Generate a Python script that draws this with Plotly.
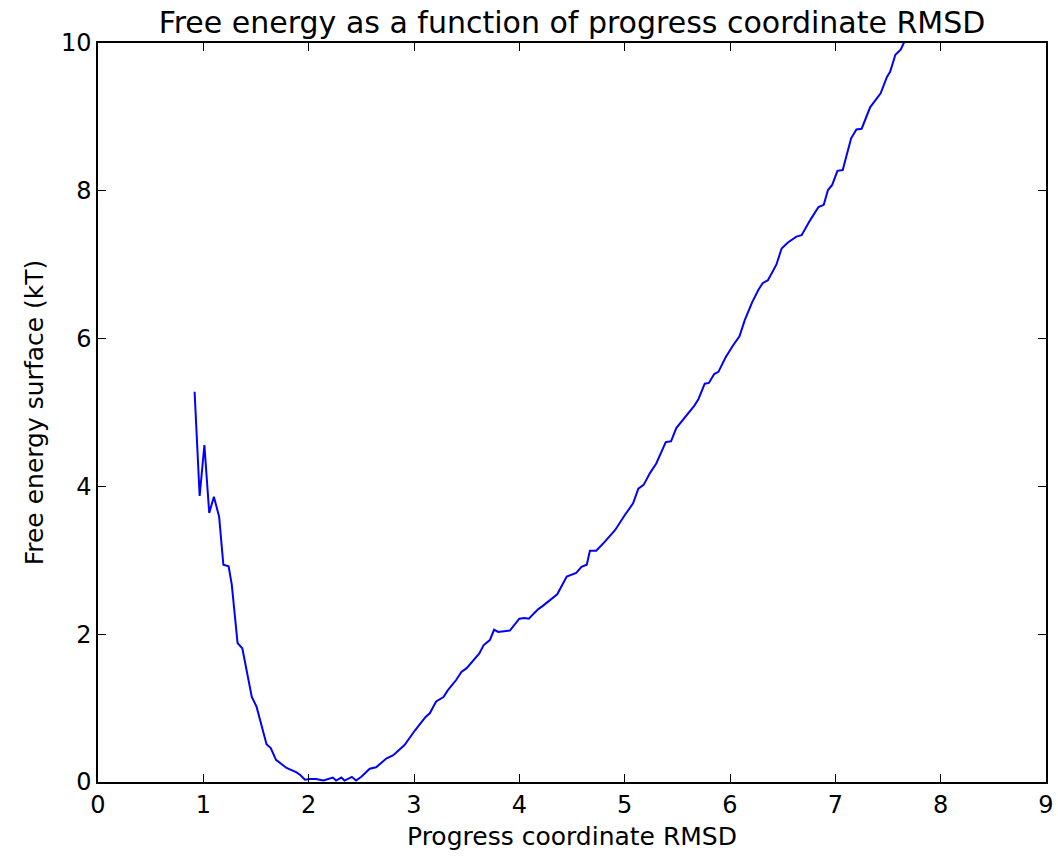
import plotly.graph_objects as go

rmsd = [0.917, 0.965, 1.01, 1.056, 1.10, 1.15, 1.19, 1.24, 1.27, 1.325, 1.37, 1.46, 1.505,
        1.60, 1.64, 1.69, 1.79, 1.885, 1.92, 1.965, 2.01, 2.07, 2.14, 2.23, 2.26, 2.31,
        2.34, 2.41, 2.45, 2.50, 2.58, 2.64, 2.74, 2.80, 2.91, 3.01, 3.11, 3.15, 3.21,
        3.28, 3.32, 3.40, 3.45, 3.50, 3.62, 3.66, 3.72, 3.76, 3.80, 3.91, 4.00, 4.05,
        4.09, 4.18, 4.22, 4.30, 4.36, 4.45, 4.54, 4.59, 4.64, 4.67, 4.73, 4.81, 4.91,
        5.00, 5.08, 5.13, 5.18, 5.24, 5.30, 5.39, 5.44, 5.49, 5.55, 5.62, 5.66, 5.70,
        5.76, 5.80, 5.85, 5.89, 5.96, 6.03, 6.09, 6.14, 6.21, 6.27, 6.31, 6.36, 6.44,
        6.49, 6.55, 6.63, 6.68, 6.76, 6.84, 6.89, 6.93, 6.97, 7.02, 7.07, 7.15, 7.20,
        7.25, 7.33, 7.43, 7.49, 7.52, 7.57, 7.62, 7.64, 7.70]
free_energy = [5.28, 3.87, 4.56, 3.64, 3.86, 3.59, 2.94, 2.92, 2.67, 1.88, 1.81, 1.15, 1.02,
               0.51, 0.46, 0.30, 0.19, 0.13, 0.095, 0.03, 0.04, 0.04, 0.02, 0.06, 0.02, 0.06,
               0.02, 0.07, 0.02, 0.07, 0.18, 0.20, 0.32, 0.36, 0.50, 0.70, 0.88, 0.93, 1.09,
               1.15, 1.24, 1.38, 1.49, 1.54, 1.74, 1.85, 1.92, 2.06, 2.03, 2.05, 2.21, 2.22,
               2.21, 2.34, 2.38, 2.47, 2.54, 2.78, 2.83, 2.91, 2.94, 3.13, 3.13, 3.25, 3.41,
               3.61, 3.77, 3.97, 4.02, 4.18, 4.31, 4.60, 4.61, 4.79, 4.90, 5.03, 5.09, 5.18,
               5.39, 5.40, 5.52, 5.55, 5.75, 5.91, 6.03, 6.25, 6.49, 6.66, 6.75, 6.79, 7.00,
               7.22, 7.30, 7.38, 7.40, 7.60, 7.78, 7.81, 8.01, 8.08, 8.27, 8.28, 8.71, 8.83,
               8.84, 9.13, 9.32, 9.54, 9.61, 9.84, 9.91, 9.97, 10.15]

x_ticks = list(range(0, 10))
y_ticks = [0, 2, 4, 6, 8, 10]

fig = go.Figure()
fig.add_trace(go.Scatter(x=rmsd, y=free_energy, mode="lines",
                         line=dict(color="#0000ff", width=2), showlegend=False,
                         hoverinfo="skip"))

font = "DejaVu Sans, sans-serif"
axis_common = dict(
    showgrid=False, zeroline=False, showline=True, linecolor="black", linewidth=1.5,
    mirror="allticks", ticks="inside", ticklen=8, tickwidth=1, tickcolor="black",
    tickfont=dict(family=font, size=24, color="black"), automargin=False,
)
fig.update_layout(
    width=1058, height=858,
    margin=dict(l=98, r=12, t=43, b=76),
    paper_bgcolor="white", plot_bgcolor="white",
    title=dict(text="Free energy as a function of progress coordinate RMSD",
               font=dict(family=font, size=30, color="black"),
               x=0.5, xref="paper", xanchor="center",
               yref="container", y=1 - 22 / 858, yanchor="middle"),
    xaxis=dict(range=[0, 9], tickvals=x_ticks,
               title=dict(text="Progress coordinate RMSD", font=dict(family=font, size=25, color="black"),
                          standoff=10),
               **axis_common),
    yaxis=dict(range=[0, 10], tickvals=y_ticks,
               title=dict(text="Free energy surface (kT)", font=dict(family=font, size=25, color="black"),
                          standoff=10),
               **axis_common),
)
fig.write_html("out.html", config={"displayModeBar": False},
               post_script="document.body.style.margin='0';document.body.style.overflow='hidden';")
